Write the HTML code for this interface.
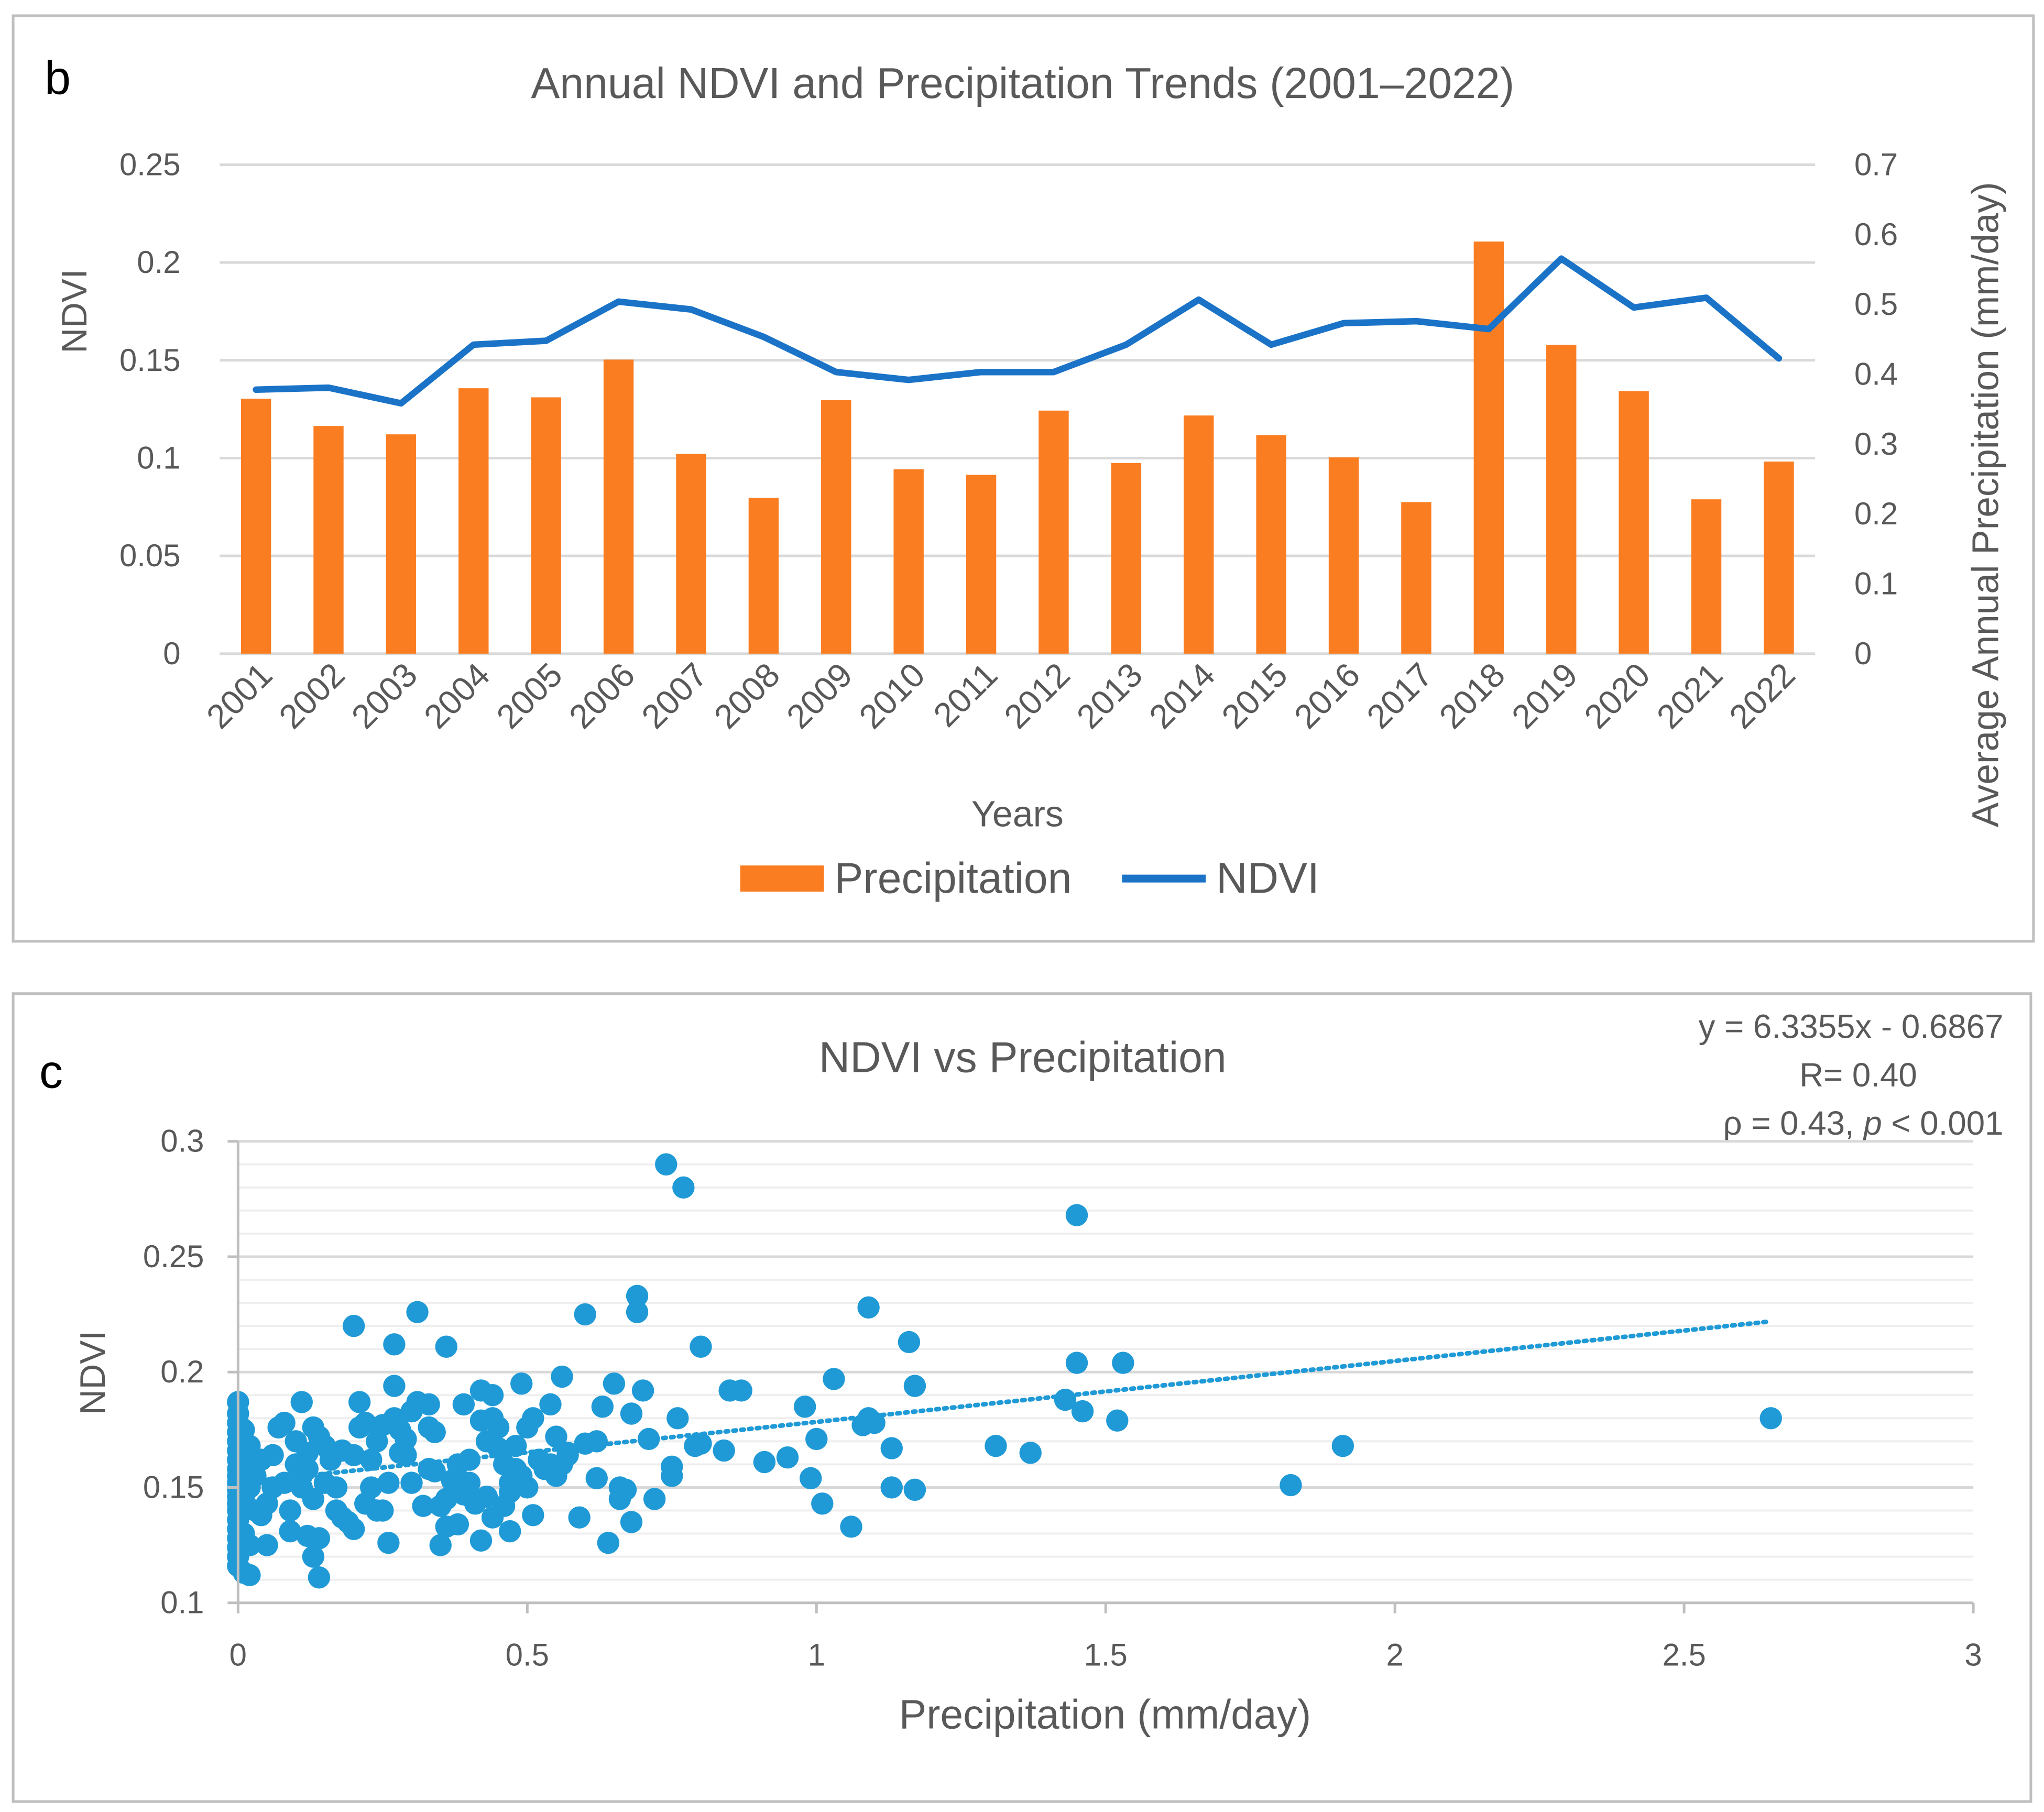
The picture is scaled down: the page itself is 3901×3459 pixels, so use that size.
<!DOCTYPE html>
<html><head><meta charset="utf-8">
<style>
html,body{margin:0;padding:0;background:#fff;}
svg{display:block;font-family:"Liberation Sans",sans-serif;}
</style></head>
<body>
<svg id="root" width="3901" height="3459" viewBox="0 0 1563 1386" xmlns="http://www.w3.org/2000/svg">
<rect x="0" y="0" width="1563" height="1386" fill="#fff"/>
<g id="chartB">
<rect x="10" y="12" width="1545" height="708" fill="#fff" stroke="#bfbfbf" stroke-width="2"/>
<text x="34" y="72" font-size="36" fill="#000">b</text>
<text x="782" y="75" font-size="33" fill="#595959" text-anchor="middle">Annual NDVI and Precipitation Trends (2001–2022)</text>
<g id="bGrid"></g><g id="bBars"></g><g id="bLine"></g><g id="bAxes"></g>
<text transform="translate(66,238) rotate(-90)" font-size="27" fill="#595959" text-anchor="middle">NDVI</text>
<text transform="translate(1528,386) rotate(-90)" font-size="28.5" fill="#595959" text-anchor="middle">Average Annual Precipitation (mm/day)</text>
<text x="778" y="632" font-size="28" fill="#595959" text-anchor="middle">Years</text>
<g>
<rect x="566" y="662" width="64" height="20" fill="#fb7d21"/>
<text x="638" y="683" font-size="33" fill="#595959">Precipitation</text>
<line x1="858" y1="672" x2="922" y2="672" stroke="#1a73c7" stroke-width="6"/>
<text x="930" y="683" font-size="33" fill="#595959">NDVI</text>
</g>
</g>
<g id="chartC">
<rect x="10" y="760" width="1543" height="618" fill="#fff" stroke="#bfbfbf" stroke-width="2"/>
<text x="30" y="832" font-size="36" fill="#000">c</text>
<text x="782" y="820" font-size="33" fill="#595959" text-anchor="middle">NDVI vs Precipitation</text>
<text x="1532" y="794" font-size="25.5" fill="#595959" text-anchor="end">y = 6.3355x - 0.6867</text>
<text x="1466" y="831" font-size="25.5" fill="#595959" text-anchor="end">R= 0.40</text>
<text x="1532" y="868" font-size="25.5" fill="#595959" text-anchor="end">ρ = 0.43, <tspan font-style="italic">p</tspan> &lt; 0.001</text>
<g id="cGrid"></g><g id="cTrend"></g><g id="cPts"></g><g id="cAxes"></g>
<text transform="translate(80,1050) rotate(-90)" font-size="27" fill="#595959" text-anchor="middle">NDVI</text>
<text x="845" y="1322" font-size="31.5" fill="#595959" text-anchor="middle">Precipitation (mm/day)</text>
</g>
</svg>
<script>
const years=["2001","2002","2003","2004","2005","2006","2007","2008","2009","2010","2011","2012","2013","2014","2015","2016","2017","2018","2019","2020","2021","2022"];
const precipValues=[0.365,0.326,0.314,0.380,0.367,0.421,0.286,0.223,0.363,0.264,0.256,0.348,0.273,0.341,0.313,0.281,0.217,0.590,0.442,0.376,0.221,0.275];
const ndviValues=[0.135,0.136,0.128,0.158,0.160,0.180,0.176,0.162,0.144,0.140,0.144,0.144,0.158,0.181,0.158,0.169,0.170,0.166,0.202,0.177,0.182,0.151];
const leftTicks=["0","0.05","0.1","0.15","0.2","0.25"];
const rightTicks=["0","0.1","0.2","0.3","0.4","0.5","0.6","0.7"];
const scatterX=[0.74,0.77,1.45,0.69,0.69,0.31,0.60,1.09,0.20,0.27,0.36,0.80,1.16,1.45,1.53,1.03,1.17,0.56,0.65,0.27,0.49,0.70,0.85,0.87,0.42,0.44,0.98,1.43,1.46,1.52,2.65,1.09,1.10,1.08,0.76,0.68,0.63,0.54,0.39,0.33,0.31,0.21,0.11,1.31,1.37,1.13,1.00,0.95,0.91,0.84,0.80,0.79,0.75,0.75,0.71,0.62,0.60,0.57,1.13,1.17,1.82,1.91,0.99,1.01,1.06,0.72,0.68,0.66,0.66,0.67,0.64,0.59,0.62,0.51,0.47,0.42,0.35,0.38,0.26,0.20,0.17,0.14,0.13,0.14,0.12,0.09,0.05,0.02,0.01,
0,0,0,0,0,0,0,0,0,0,0,0,0,0,0,0,0,0,0,0,0.01,0.01,0.01,0.01,0.02,0.02,0.02,0.03,0.03,0.04,0.05,0.06,0.07,0.08,0.08,0.09,0.10,0.10,0.11,0.12,0.12,0.13,0.13,0.14,0.15,0.15,0.16,0.17,0.18,0.19,0.20,0.21,0.22,0.22,0.23,0.24,0.24,0.25,0.25,0.26,0.27,0.28,0.28,0.29,0.30,0.30,0.32,0.33,0.33,0.34,0.35,0.36,0.37,0.38,0.38,0.39,0.40,0.40,0.41,0.42,0.43,0.43,0.44,0.45,0.45,0.46,0.46,0.47,0.48,0.48,0.49,0.50,0.50,0.51,0.52,0.53,0.54,0.55,0.55,0.56,0.57,0.34,0.29,0.23,0.18,0.11,0.06,0.04,0.36,0.41,0.44,0.47];
const scatterY=[0.290,0.280,0.268,0.233,0.226,0.226,0.225,0.228,0.220,0.212,0.211,0.211,0.213,0.204,0.204,0.197,0.194,0.198,0.195,0.194,0.195,0.192,0.192,0.192,0.192,0.190,0.185,0.188,0.183,0.179,0.180,0.180,0.178,0.177,0.180,0.182,0.185,0.186,0.186,0.186,0.187,0.187,0.187,0.168,0.165,0.167,0.171,0.163,0.161,0.166,0.169,0.168,0.159,0.155,0.171,0.170,0.169,0.164,0.150,0.149,0.151,0.168,0.154,0.143,0.133,0.145,0.135,0.145,0.150,0.149,0.126,0.137,0.154,0.138,0.131,0.127,0.125,0.134,0.126,0.132,0.140,0.111,0.120,0.128,0.129,0.131,0.125,0.112,0.113,
0.187,0.182,0.178,0.174,0.170,0.166,0.162,0.158,0.155,0.152,0.149,0.146,0.143,0.140,0.136,0.132,0.128,0.124,0.120,0.116,0.175,0.160,0.145,0.130,0.168,0.150,0.125,0.155,0.140,0.162,0.143,0.164,0.176,0.152,0.178,0.140,0.160,0.170,0.150,0.165,0.158,0.176,0.145,0.172,0.168,0.152,0.162,0.150,0.137,0.135,0.164,0.176,0.143,0.178,0.150,0.140,0.170,0.177,0.140,0.152,0.180,0.175,0.165,0.171,0.183,0.152,0.142,0.176,0.158,0.174,0.142,0.145,0.153,0.154,0.160,0.147,0.162,0.152,0.143,0.179,0.146,0.170,0.137,0.167,0.176,0.142,0.160,0.148,0.168,0.158,0.155,0.176,0.150,0.180,0.162,0.158,0.160,0.155,0.172,0.160,0.165,0.157,0.164,0.162,0.166,0.155,0.150,0.138,0.133,0.145,0.180,0.152,0.140,0.170,0.180,0.162];
const cXTicks=["0","0.5","1","1.5","2","2.5","3"];
const cYTicks=["0.1","0.15","0.2","0.25","0.3"];
const trendIntercept=0.152, trendSlope=0.0264, trendXStart=0.02, trendXEnd=2.65;

const NS="http://www.w3.org/2000/svg";
function mk(tag,attrs,parent,txt){const e=document.createElementNS(NS,tag);for(const k in attrs)e.setAttribute(k,attrs[k]);if(txt!==undefined)e.textContent=txt;parent.appendChild(e);return e;}

const bL=168,bR=1388,bT=126,bB=500;
const yL=v=>bB-(v/0.25)*(bB-bT);
const yR=v=>bB-(v/0.7)*(bB-bT);
const band=(bR-bL)/years.length;
const xB=i=>bL+band*(i+0.5);
const bGrid=document.getElementById('bGrid'),bBars=document.getElementById('bBars'),bLine=document.getElementById('bLine'),bAxes=document.getElementById('bAxes');
leftTicks.forEach(t=>{const y=yL(parseFloat(t));
 const g=mk('line',{x1:bL,x2:bR,y1:y,y2:y,stroke:'#d9d9d9','stroke-width':2},bGrid);
 
 
 const tx=mk('text',{x:138,y:y+8,'font-size':24,fill:'#595959','text-anchor':'end'},bAxes,t);
 
 });
rightTicks.forEach(t=>{const y=yR(parseFloat(t));
 const tx=mk('text',{x:1418,y:y+8,'font-size':24,fill:'#595959'},bAxes,t);
 
 });
precipValues.forEach((v,i)=>{const w=23;
 const r=mk('rect',{x:xB(i)-w/2,y:yR(v),width:w,height:bB-yR(v),fill:'#fb7d21'},bBars);
 
 });
const pts=ndviValues.map((v,i)=>xB(i)+','+yL(v)).join(' ');
const pl=mk('polyline',{points:pts,fill:'none',stroke:'#1a73c7','stroke-width':5,'stroke-linejoin':'round','stroke-linecap':'round'},bLine);


years.forEach((y,i)=>{const x=xB(i)+14,yy=518;
 const tx=mk('text',{x:x,y:yy,'font-size':26,fill:'#595959','text-anchor':'end',transform:`rotate(-45 ${x} ${yy})`},bAxes,y);
 
 });

const cL=182,cR=1509,cT=873,cB=1226;
const xC=v=>cL+v/3*(cR-cL);
const yC=v=>cB-(v-0.1)/0.2*(cB-cT);
const cGrid=document.getElementById('cGrid'),cTrend=document.getElementById('cTrend'),cPts=document.getElementById('cPts'),cAxes=document.getElementById('cAxes');
for(let k=1;k<=20;k++){const v=0.1+k*0.01;const y=yC(v);const major=(k%5===0);
 const g=mk('line',{x1:cL,x2:cR,y1:y,y2:y,stroke:major?'#d9d9d9':'#eeeeee','stroke-width':major?2:1.5},cGrid);
 
 }
const ax1=mk('line',{x1:cL,x2:cR,y1:cB,y2:cB,stroke:'#bfbfbf','stroke-width':2},cAxes);


const ax2=mk('line',{x1:cL,x2:cL,y1:cT,y2:cB,stroke:'#bfbfbf','stroke-width':2},cAxes);


cXTicks.forEach(t=>{const x=xC(parseFloat(t));
 const tk=mk('line',{x1:x,x2:x,y1:cB,y2:cB+8,stroke:'#bfbfbf','stroke-width':2},cAxes);
 
 
 const tx=mk('text',{x:x,y:1274,'font-size':24,fill:'#595959','text-anchor':'middle'},cAxes,t);
 
 });
cYTicks.forEach(t=>{const y=yC(parseFloat(t));
 const tk=mk('line',{x1:cL-8,x2:cL,y1:y,y2:y,stroke:'#bfbfbf','stroke-width':2},cAxes);
 
 
 const tx=mk('text',{x:156,y:y+8,'font-size':24,fill:'#595959','text-anchor':'end'},cAxes,t);
 
 });
const tl=mk('line',{x1:xC(trendXStart),y1:yC(trendIntercept+trendSlope*trendXStart),x2:xC(trendXEnd),y2:yC(trendIntercept+trendSlope*trendXEnd),stroke:'#1f9ad6','stroke-width':3.5,'stroke-dasharray':'2 4','stroke-linecap':'round'},cTrend);


scatterX.forEach((x,i)=>{
 const c=mk('circle',{cx:xC(x),cy:yC(scatterY[i]),r:8.5,fill:'#1f9ad6'},cPts);
 
 });
</script>
</body></html>
